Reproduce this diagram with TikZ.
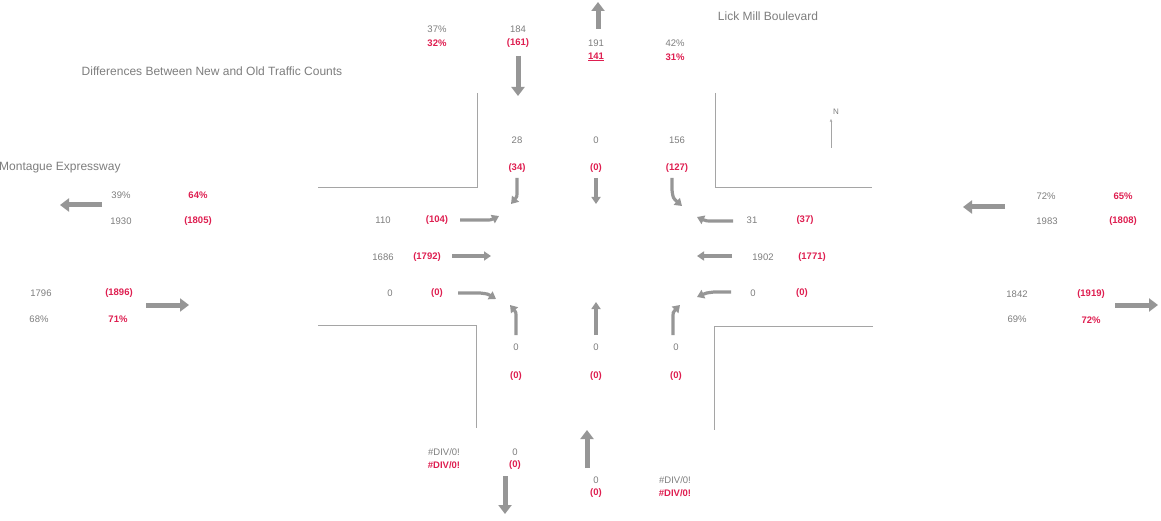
\documentclass[tikz,border=0pt]{standalone}
\usepackage{fontspec}
\setmainfont{Liberation Sans}
\usetikzlibrary{arrows.meta, positioning}
\definecolor{CountGray}{RGB}{125, 125, 125}
\definecolor{CountRed}{RGB}{222, 30, 80}
\definecolor{RoadLine}{RGB}{165, 165, 165}
\definecolor{ArrowFill}{RGB}{150, 150, 150}

\tikzset{
  cnt/.style={text=CountGray, font=\fontsize{9.5}{11}\selectfont, inner sep=0pt},
  dif/.style={text=CountRed, font=\fontsize{9.5}{11}\selectfont\bfseries, inner sep=0pt},
  lbl/.style={text=CountGray, font=\fontsize{12}{14}\selectfont, inner sep=0pt},
  road/.style={draw=RoadLine, line width=0.7pt},
  bigflow/.style={draw=ArrowFill, line width=5pt, -{Triangle[length=9pt,width=13pt]}},
  laneflow/.style={draw=ArrowFill, line width=3.2pt, -{Triangle[length=7pt,width=9pt]}}
}

\begin{document}
\begin{tikzpicture}[x=1pt, y=-1pt]
  \useasboundingbox (0,0) rectangle (1161,521);

  % road edges
  \draw[road] (477,93) -- (477,187) -- (318,187);
  \draw[road] (715,93) -- (715,187) -- (872,187);
  \draw[road] (318,325) -- (476,325) -- (476,428);
  \draw[road] (873,326) -- (714,326) -- (714,430);

  % titles
  \node[lbl] (title) at (212,71) {Differences Between New and Old Traffic Counts};
  \node[lbl, anchor=west] (montague) at (-1,168) {Montague Expressway};
  \node[lbl] (lickmill) at (768,16) {Lick Mill Boulevard};

  % north marker
  \node[text=CountGray, font=\fontsize{8}{9}\selectfont, inner sep=0pt] (north) at (836,112) {N};
  \draw[draw=RoadLine, very thin, -{Stealth[length=3pt,width=2.5pt]}] (831,148) -- (831,119);

  % north leg
  \node[cnt] (nLpct) at (437,29) {37\%};
  \node[dif] (nLdif) at (437,43) {32\%};
  \node[cnt] (nIn) at (518,29) {184};
  \node[dif] (nIndif) at (518,43) {(161)};
  \node[cnt] (nOut) at (596,43) {191};
  \node[dif] (nOutdif) at (596,57) {\underline{141}};
  \node[cnt] (nRpct) at (675,43) {42\%};
  \node[dif] (nRdif) at (675,57) {31\%};
  \draw[bigflow] (598,29) -- (598,2);
  \draw[bigflow] (518,56) -- (518,96);

  % southbound lanes
  \node[cnt] (sbL) at (517,140) {28};
  \node[dif] (sbLd) at (517,168) {(34)};
  \node[cnt] (sbT) at (596,140) {0};
  \node[dif] (sbTd) at (596,168) {(0)};
  \node[cnt] (sbR) at (677,140) {156};
  \node[dif] (sbRd) at (677,168) {(127)};
  \draw[laneflow] (517,178) -- (517,189) .. controls (517,197) .. (511,204);
  \draw[laneflow] (596,178) -- (596,204);
  \draw[laneflow] (672,178) -- (672,190) .. controls (673,198) .. (682,206);

  % eastbound lanes
  \node[cnt] (ebL) at (383,220) {110};
  \node[dif] (ebLd) at (437,220) {(104)};
  \node[cnt] (ebT) at (383,257) {1686};
  \node[dif] (ebTd) at (427,257) {(1792)};
  \node[cnt] (ebR) at (390,293) {0};
  \node[dif] (ebRd) at (437,293) {(0)};
  \draw[laneflow] (460,220) -- (483,220) .. controls (491,220) .. (499,216);
  \draw[laneflow] (452,256) -- (491,256);
  \draw[laneflow] (458,293) -- (480,293) .. controls (488,294) .. (496,299);

  % westbound lanes
  \node[cnt] (wbL) at (752,220) {31};
  \node[dif] (wbLd) at (805,220) {(37)};
  \node[cnt] (wbT) at (763,257) {1902};
  \node[dif] (wbTd) at (812,257) {(1771)};
  \node[cnt] (wbR) at (753,293) {0};
  \node[dif] (wbRd) at (802,293) {(0)};
  \draw[laneflow] (733,221) -- (714,221) .. controls (706,221) .. (697,217);
  \draw[laneflow] (732,256) -- (697,256);
  \draw[laneflow] (731,292) -- (714,292) .. controls (706,293) .. (697,297);

  % northbound lanes
  \draw[laneflow] (516,335) -- (516,319) .. controls (516,312) .. (510,305);
  \draw[laneflow] (596,335) -- (596,302);
  \draw[laneflow] (673,335) -- (673,319) .. controls (673,312) .. (680,305);
  \node[cnt] (nbL) at (516,347) {0};
  \node[dif] (nbLd) at (516,376) {(0)};
  \node[cnt] (nbT) at (596,347) {0};
  \node[dif] (nbTd) at (596,376) {(0)};
  \node[cnt] (nbR) at (676,347) {0};
  \node[dif] (nbRd) at (676,376) {(0)};

  % west leg
  \draw[bigflow] (102,205) -- (60,205);
  \node[cnt] (wOutpct) at (121,195) {39\%};
  \node[dif] (wOutdif) at (198,195) {64\%};
  \node[cnt] (wOut) at (121,221) {1930};
  \node[dif] (wOutd) at (198,221) {(1805)};
  \node[cnt] (wIn) at (41,293) {1796};
  \node[dif] (wInd) at (119,293) {(1896)};
  \node[cnt] (wInpct) at (39,319) {68\%};
  \node[dif] (wIndif) at (118,319) {71\%};
  \draw[bigflow] (146,305) -- (189,305);

  % east leg
  \draw[bigflow] (1005,207) -- (963,207);
  \node[cnt] (eInpct) at (1046,196) {72\%};
  \node[dif] (eIndif) at (1123,196) {65\%};
  \node[cnt] (eIn) at (1047,221) {1983};
  \node[dif] (eInd) at (1123,221) {(1808)};
  \node[cnt] (eOut) at (1017,294) {1842};
  \node[dif] (eOutd) at (1091,294) {(1919)};
  \node[cnt] (eOutpct) at (1017,319) {69\%};
  \node[dif] (eOutdif) at (1091,320) {72\%};
  \draw[bigflow] (1115,305) -- (1158,305);

  % south leg
  \node[cnt] (sLpct) at (444,452) {\#DIV/0!};
  \node[dif] (sLdif) at (444,465) {\#DIV/0!};
  \node[cnt] (sOut) at (515,452) {0};
  \node[dif] (sOutd) at (515,465) {(0)};
  \draw[bigflow] (505,476) -- (505,514);
  \draw[bigflow] (587,468) -- (587,430);
  \node[cnt] (sIn) at (596,480) {0};
  \node[dif] (sInd) at (596,493) {(0)};
  \node[cnt] (sRpct) at (675,480) {\#DIV/0!};
  \node[dif] (sRdif) at (675,493) {\#DIV/0!};
\end{tikzpicture}
\end{document}
